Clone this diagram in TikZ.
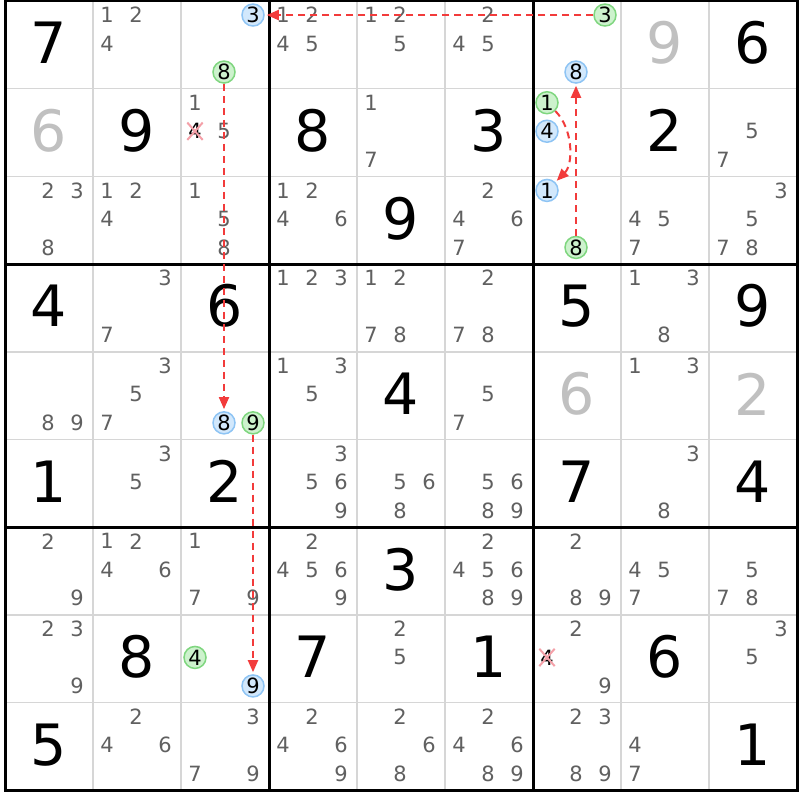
\documentclass[tikz,border=0pt]{standalone}
\usepackage{fontspec}
\setmainfont{DejaVu Sans}
\usetikzlibrary{arrows.meta,shapes.misc}

\definecolor{candgray}{HTML}{606060}
\definecolor{solvedgray}{HTML}{C0C0C0}
\definecolor{gridgray}{HTML}{D6D6D6}
\definecolor{onfill}{HTML}{D2E8FC}
\definecolor{onedge}{HTML}{8EC4F4}
\definecolor{offfill}{HTML}{CDF2CD}
\definecolor{offedge}{HTML}{7FD67F}
\definecolor{linkred}{HTML}{F23B3B}
\definecolor{crossred}{HTML}{F4A0A8}

\tikzset{
	given/.style={text=black, font=\fontsize{57}{57}\selectfont, inner sep=0pt},
	solved/.style={given, text=solvedgray},
	cand/.style={text=candgray, font=\fontsize{21}{21}\selectfont, inner sep=0pt},
	oncand/.style={cand, text=black, circle, draw=onedge, fill=onfill, line width=1.5pt, minimum size=22pt},
	offcand/.style={oncand, draw=offedge, fill=offfill},
	elimcand/.style={cand, text=black, cross out, draw=crossred, line width=2pt, minimum width=13pt, minimum height=15pt},
	link/.style={draw=linkred, line width=2pt, dash pattern=on 7pt off 5pt, -{Triangle[length=12pt,width=10pt]}, shorten >=2pt},
	thinrule/.style={draw=gridgray, line width=1.5pt},
	boxrule/.style={draw=black, line width=3pt},
}

\def\candpos#1#2#3{\pgfmathsetmacro\candx{#2-1+(14+29*mod(#3-1,3))/88}\pgfmathsetmacro\candy{#1-0.84+0.325*int((#3-1)/3)}}
\newcommand\cellval[4][given]{\node[#1] (v-#2-#3) at (#3-0.5,#2-0.52) {#4};}
\newcommand\cands[3]{\foreach \n in {#3}{\candpos{#1}{#2}{\n}\node[cand] (n-#1-#2-\n) at (\candx,\candy) {\n};}}
\newcommand\pickcand[4][oncand]{\candpos{#2}{#3}{#4}\node[#1] (n-#2-#3-#4) at (\candx,\candy) {#4};}

\begin{document}
\begin{tikzpicture}[x=88pt, y=-87.7pt]
	%%%%% GRID %%%%%
	\path[use as bounding box, fill=white] (-0.05682,-0.0114) rectangle (9.03409,9.1106);
	\foreach \i in {1,2,4,5,7,8} {
		\draw[thinrule] (\i,0) -- (\i,9);
		\draw[thinrule] (0,\i) -- (9,\i);
	}
	\foreach \i in {3,6} {
		\draw[boxrule] (\i,0) -- (\i,9);
		\draw[boxrule] (0,\i) -- (9,\i);
	}
	\draw[boxrule] (0,0) rectangle (9,9);
	
	%%%%% VALUES %%%%%
	\cellval{1}{1}{7}
	\cellval[solved]{1}{8}{9}
	\cellval{1}{9}{6}
	\cellval[solved]{2}{1}{6}
	\cellval{2}{2}{9}
	\cellval{2}{4}{8}
	\cellval{2}{6}{3}
	\cellval{2}{8}{2}
	\cellval{3}{5}{9}
	\cellval{4}{1}{4}
	\cellval{4}{3}{6}
	\cellval{4}{7}{5}
	\cellval{4}{9}{9}
	\cellval{5}{5}{4}
	\cellval[solved]{5}{7}{6}
	\cellval[solved]{5}{9}{2}
	\cellval{6}{1}{1}
	\cellval{6}{3}{2}
	\cellval{6}{7}{7}
	\cellval{6}{9}{4}
	\cellval{7}{5}{3}
	\cellval{8}{2}{8}
	\cellval{8}{4}{7}
	\cellval{8}{6}{1}
	\cellval{8}{8}{6}
	\cellval{9}{1}{5}
	\cellval{9}{9}{1}
	
	%%%%% CANDIDATES %%%%%
	\cands{1}{2}{1,2,4}
	\cands{1}{4}{1,2,4,5}
	\cands{1}{5}{1,2,5}
	\cands{1}{6}{2,4,5}
	\cands{2}{3}{1,5}
	\cands{2}{5}{1,7}
	\cands{2}{9}{5,7}
	\cands{3}{1}{2,3,8}
	\cands{3}{2}{1,2,4}
	\cands{3}{3}{1,5,8}
	\cands{3}{4}{1,2,4,6}
	\cands{3}{6}{2,4,6,7}
	\cands{3}{8}{4,5,7}
	\cands{3}{9}{3,5,7,8}
	\cands{4}{2}{3,7}
	\cands{4}{4}{1,2,3}
	\cands{4}{5}{1,2,7,8}
	\cands{4}{6}{2,7,8}
	\cands{4}{8}{1,3,8}
	\cands{5}{1}{8,9}
	\cands{5}{2}{3,5,7}
	\cands{5}{4}{1,3,5}
	\cands{5}{6}{5,7}
	\cands{5}{8}{1,3}
	\cands{6}{2}{3,5}
	\cands{6}{4}{3,5,6,9}
	\cands{6}{5}{5,6,8}
	\cands{6}{6}{5,6,8,9}
	\cands{6}{8}{3,8}
	\cands{7}{1}{2,9}
	\cands{7}{2}{1,2,4,6}
	\cands{7}{3}{1,7,9}
	\cands{7}{4}{2,4,5,6,9}
	\cands{7}{6}{2,4,5,6,8,9}
	\cands{7}{7}{2,8,9}
	\cands{7}{8}{4,5,7}
	\cands{7}{9}{5,7,8}
	\cands{8}{1}{2,3,9}
	\cands{8}{5}{2,5}
	\cands{8}{7}{2,9}
	\cands{8}{9}{3,5}
	\cands{9}{2}{2,4,6}
	\cands{9}{3}{3,7,9}
	\cands{9}{4}{2,4,6,9}
	\cands{9}{5}{2,6,8}
	\cands{9}{6}{2,4,6,8,9}
	\cands{9}{7}{2,3,8,9}
	\cands{9}{8}{4,7}
	
	%%%%% CHAIN %%%%%
	\pickcand{1}{3}{3}
	\pickcand[offcand]{1}{3}{8}
	\pickcand[offcand]{1}{7}{3}
	\pickcand{1}{7}{8}
	\pickcand[offcand]{2}{7}{1}
	\pickcand{2}{7}{4}
	\pickcand{3}{7}{1}
	\pickcand[offcand]{3}{7}{8}
	\pickcand{5}{3}{8}
	\pickcand[offcand]{5}{3}{9}
	\pickcand[offcand]{8}{3}{4}
	\pickcand{8}{3}{9}
	\pickcand[elimcand]{2}{3}{4}
	\pickcand[elimcand]{8}{7}{4}
	
	\draw[link] (n-1-7-3) -- (n-1-3-3);
	\draw[link] (n-3-7-8) -- (n-1-7-8);
	\draw[link] (n-2-7-1) .. controls +(0.3,0.3) and +(0.3,-0.3) .. (n-3-7-1);
	\draw[link] (n-1-3-8) -- (n-5-3-8);
	\draw[link] (n-5-3-9) -- (n-8-3-9);
	
	%%%%% END %%%%%
\end{tikzpicture}
\end{document}
